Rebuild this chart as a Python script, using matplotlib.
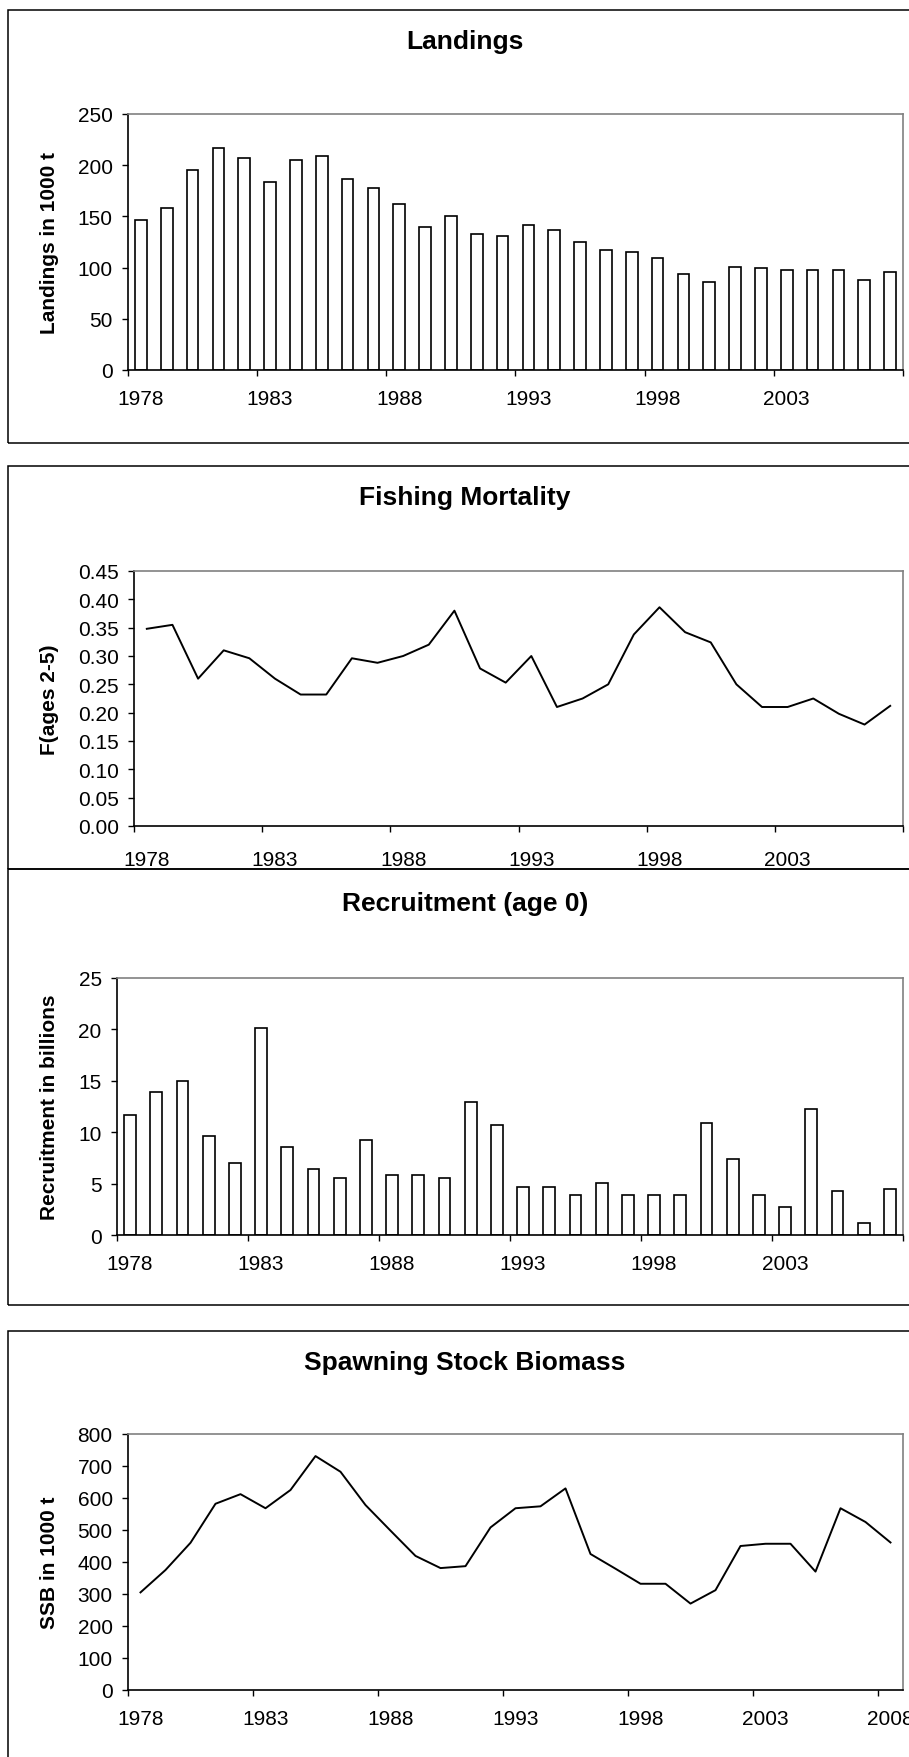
#!/usr/bin/env python
import numpy as np
import matplotlib
matplotlib.use('Agg')
import matplotlib.pyplot as plt
from matplotlib.patches import Rectangle

plt.rcParams['font.family'] = ['Liberation Sans', 'DejaVu Sans']

# ---- data ----
years = list(range(1978, 2008))
years_ssb = list(range(1978, 2009))

landings = [146, 158, 195, 217, 207, 184, 205, 209, 187, 178,
            162, 140, 150, 133, 131, 142, 137, 125, 117, 115,
            109, 94, 86, 101, 100, 98, 98, 98, 88, 96]

fmort = [0.348, 0.355, 0.260, 0.310, 0.296, 0.260, 0.232, 0.232, 0.296, 0.288,
         0.300, 0.320, 0.380, 0.278, 0.253, 0.300, 0.210, 0.225, 0.250, 0.338,
         0.386, 0.342, 0.324, 0.250, 0.210, 0.210, 0.225, 0.198, 0.179, 0.212]

recruit = [11.7, 13.9, 15.0, 9.6, 7.0, 20.1, 8.6, 6.4, 5.5, 9.2,
           5.8, 5.8, 5.5, 12.9, 10.7, 4.7, 4.7, 3.9, 5.1, 3.9,
           3.9, 3.9, 10.9, 7.4, 3.9, 2.7, 12.3, 4.3, 1.2, 4.5]

ssb = [305, 375, 460, 582, 612, 568, 625, 731, 682, 578,
       498, 419, 381, 387, 508, 568, 574, 630, 425, 379,
       332, 332, 270, 312, 450, 457, 457, 370, 568, 525, 461]

landings_ticks = [0, 50, 100, 150, 200, 250]
fmort_ticks = [0.00, 0.05, 0.10, 0.15, 0.20, 0.25, 0.30, 0.35, 0.40, 0.45]
recruit_ticks = [0, 5, 10, 15, 20, 25]
ssb_ticks = [0, 100, 200, 300, 400, 500, 600, 700, 800]

W, H = 909, 1758
fig = plt.figure(figsize=(W / 100, H / 100), dpi=100)


def px_axes(l, t, r, b):
    return fig.add_axes([l / W, 1 - b / H, (r - l) / W, (b - t) / H])


def frame(top, bottom):
    fig.add_artist(Rectangle((8 / W, 1 - bottom / H), 1.2, (bottom - top) / H,
                             transform=fig.transFigure, fill=False,
                             edgecolor='black', lw=1.1, clip_on=False))


def title(text, y):
    fig.text(465 / W, 1 - y / H, text, ha='center', va='center',
             fontsize=19, fontweight='bold')


def style(ax, cats, yticks, fmt, ylabel, left, right, xpad=14):
    n = len(cats)
    ax.set_xlim(-0.5, n - 0.5)
    ax.set_xticks(range(0, n, 5))
    ax.set_xticklabels([str(cats[i]) for i in range(0, n, 5)])
    ax.set_xticks(np.arange(-0.5, n - 0.4, 5), minor=True)
    ax.tick_params(axis='x', which='major', length=0, pad=xpad, labelsize=15)
    ax.tick_params(axis='x', which='minor', length=4.5, width=1, direction='out')
    ax.set_ylim(yticks[0], yticks[-1])
    ax.set_yticks(yticks)
    ax.set_yticklabels([fmt.format(v) for v in yticks])
    ax.tick_params(axis='y', length=4.5, width=1, pad=6.5, labelsize=15)
    for s in ['top', 'right']:
        ax.spines[s].set_color('#808080')
        ax.spines[s].set_linewidth(1.2)
    for s in ['left', 'bottom']:
        ax.spines[s].set_color('black')
        ax.spines[s].set_linewidth(1.2)
    ax.set_ylabel(ylabel, fontsize=15, fontweight='bold')
    ax.yaxis.set_label_coords((59 - left) / (right - left), 0.5)


# Landings
frame(11, 444)
title('Landings', 42)
ax1 = px_axes(128, 115, 903, 371)
ax1.bar(range(len(years)), landings, width=0.45, color='white',
        edgecolor='black', linewidth=1.2)
style(ax1, years, landings_ticks, '{:d}', 'Landings in 1000 t', 128, 903)

# Fishing mortality
frame(467, 870)
title('Fishing Mortality', 498)
ax2 = px_axes(134, 572, 903, 827)
ax2.plot(range(len(years)), fmort, color='black', lw=1.4)
style(ax2, years, fmort_ticks, '{:.2f}', 'F(ages 2-5)', 134, 903, xpad=17)

# Recruitment
frame(870, 1306)
title('Recruitment (age 0)', 904)
ax3 = px_axes(117, 979, 903, 1236)
ax3.bar(range(len(years)), recruit, width=0.45, color='white',
        edgecolor='black', linewidth=1.2)
style(ax3, years, recruit_ticks, '{:d}', 'Recruitment in billions', 117, 903)

# Spawning stock biomass
frame(1332, 1800)
title('Spawning Stock Biomass', 1363)
ax4 = px_axes(128, 1435, 903, 1691)
ax4.plot(range(len(years_ssb)), ssb, color='black', lw=1.4)
style(ax4, years_ssb, ssb_ticks, '{:d}', 'SSB in 1000 t', 128, 903)

fig.savefig('out.png', dpi=100)
